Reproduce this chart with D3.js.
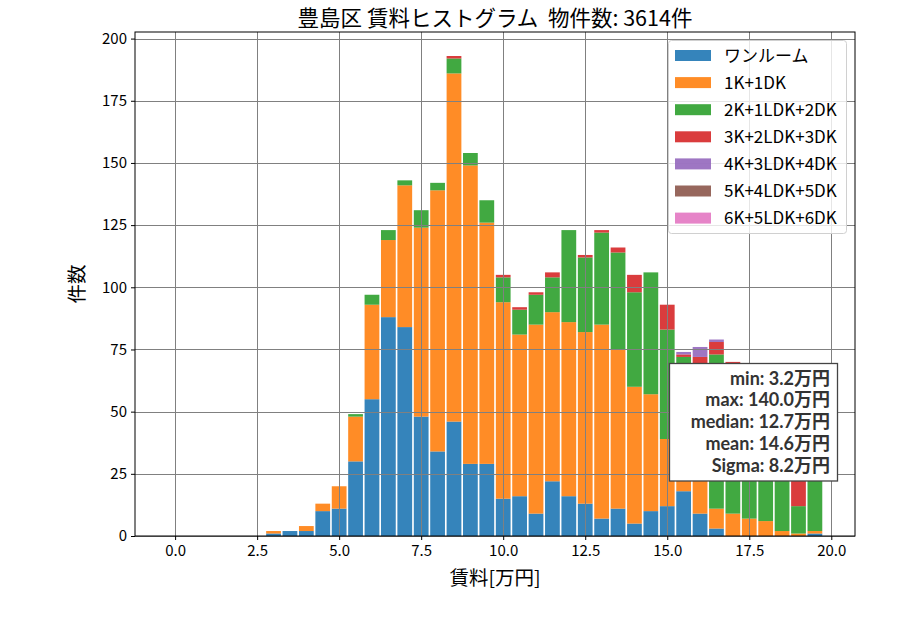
<!DOCTYPE html>
<html><head><meta charset="utf-8">
<script src="https://cdn.jsdelivr.net/npm/d3@7"></script>
<style>
body{margin:0;background:#fff;}
text{font-family:"Noto Sans CJK JP","Noto Sans",sans-serif;white-space:pre;}
</style></head><body>
<svg id="chart" width="900" height="630"></svg>
<script>
// bin centres (万円)
const bins = [3.0,3.5,4.0,4.5,5.0,5.5,6.0,6.5,7.0,7.5,8.0,8.5,9.0,9.5,10.0,10.5,11.0,11.5,12.0,12.5,13.0,13.5,14.0,14.5,15.0,15.5,16.0,16.5,17.0,17.5,18.0,18.5,19.0,19.5];
const seriesNames = ["ワンルーム","1K+1DK","2K+1LDK+2DK","3K+2LDK+3DK","4K+3LDK+4DK","5K+4LDK+5DK","6K+5LDK+6DK"];
const oneRoom = [1,2,2,10,11,30,55,88,84,48,34,46,29,29,15,16,9,22,16,13,7,11,5,10,12,18,9,3,0,0,0,0,0,1];
const k1dk    = [1,0,2,3,9,18,38,31,57,76,105,140,120,97,79,65,76,68,70,69,78,64,55,47,27,18,19,8,9,7,6,2,1,1];
const k2ldk   = [0,0,0,0,0,1,4,4,2,7,3,6,5,9,10,10,12,14,37,30,37,39,38,49,44,36,40,62,59,52,48,45,11,30];
const k3ldk   = [0,0,0,0,0,0,0,0,0,0,0,1,0,0,1,1,1,2,0,1,1,2,7,0,10,1,4,5,2,3,2,3,15,3];
const k4ldk   = [0,0,0,0,0,0,0,0,0,0,0,0,0,0,0,0,0,0,0,0,0,0,0,0,0,1,4,1,0,0,0,0,0,0];
const k5ldk   = [0,0,0,0,0,0,0,0,0,0,0,0,0,0,0,0,0,0,0,0,0,0,0,0,0,0,0,0,0,0,0,0,0,0];
const k6ldk   = [0,0,0,0,0,0,0,0,0,0,0,0,0,0,0,0,0,0,0,0,0,0,0,0,0,0,0,0,0,0,0,0,0,0];
const xTicks = [0,2.5,5,7.5,10,12.5,15,17.5,20];
const yTicks = [0,25,50,75,100,125,150,175,200];
const statLines = ["min: 3.2万円","max: 140.0万円","median: 12.7万円","mean: 14.6万円","Sigma: 8.2万円"];
const titleText = "豊島区 賃料ヒストグラム  物件数: 3614件";
const colors = ["#1f77b4","#ff7f0e","#2ca02c","#d62728","#9467bd","#8c564b","#e377c2"];
const binWidth = 0.5, rwidth = 0.9;

const series = [oneRoom,k1dk,k2ldk,k3ldk,k4ldk,k5ldk,k6ldk];
const rows = bins.map((b,i)=>{const r={bin:b}; seriesNames.forEach((n,j)=>r[n]=series[j][i]); return r;});
const stacked = d3.stack().keys(seriesNames)(rows);

const svg = d3.select("#chart");
const L=135,R=855,T=32,B=536;
const barW = binWidth*rwidth;
const xmin = -barW/2, xmax = bins[bins.length-1]+barW/2;
const xpad = (xmax-xmin)*0.05;
const x = d3.scaleLinear().domain([xmin-xpad,xmax+xpad]).range([L,R]);
const maxTot = d3.max(rows,r=>d3.sum(seriesNames,n=>r[n]));
const y = d3.scaleLinear().domain([0,maxTot*1.05]).range([B,T]);

// bars
svg.append("g").selectAll("g").data(stacked).join("g")
  .attr("fill",(d,i)=>colors[i]).attr("fill-opacity",0.9)
  .selectAll("rect").data(d=>d.filter(s=>s[1]>s[0])).join("rect")
  .attr("x",d=>x(d.data.bin-barW/2))
  .attr("width",d=>x(d.data.bin+barW/2)-x(d.data.bin-barW/2))
  .attr("y",d=>y(d[1]))
  .attr("height",d=>y(d[0])-y(d[1]));

// grid (drawn above bars)
const grid = svg.append("g").attr("stroke","#808080").attr("stroke-width",1);
grid.selectAll(".gx").data(xTicks).join("line")
  .attr("x1",d=>Math.round(x(d))+0.5).attr("x2",d=>Math.round(x(d))+0.5).attr("y1",T).attr("y2",B);
grid.selectAll(".gy").data(yTicks).join("line")
  .attr("y1",d=>Math.round(y(d))+0.5).attr("y2",d=>Math.round(y(d))+0.5).attr("x1",L).attr("x2",R);

// axes
const xAxis = d3.axisBottom(x).tickValues(xTicks).tickFormat(d3.format(".1f")).tickSizeInner(4).tickSizeOuter(0).tickPadding(5);
const yAxis = d3.axisLeft(y).tickValues(yTicks).tickSizeInner(4).tickSizeOuter(0).tickPadding(4);
const gx = svg.append("g").attr("transform",`translate(0,${B})`).call(xAxis);
const gy = svg.append("g").attr("transform",`translate(${L},0)`).call(yAxis);
[gx,gy].forEach(g=>{g.select(".domain").remove();
  g.selectAll("text").attr("font-size",15).attr("fill","#000").style("font-family","'Noto Sans CJK JP'");
  g.selectAll("line").attr("stroke","#000");});

// spines
svg.append("rect").attr("x",L).attr("y",T).attr("width",R-L).attr("height",B-T)
  .attr("fill","none").attr("stroke","#000").attr("stroke-width",1);

// labels
svg.append("text").attr("x",(L+R)/2).attr("y",26).attr("text-anchor","middle")
  .attr("font-size",21.5).text(titleText);
svg.append("text").attr("x",(L+R)/2).attr("y",585).attr("text-anchor","middle")
  .attr("font-size",19.5).text("賃料[万円]");
svg.append("text").attr("transform",`translate(84,${(T+B)/2}) rotate(-90)`).attr("text-anchor","middle")
  .attr("font-size",19.5).text("件数");

// legend
const lg = svg.append("g");
lg.append("rect").attr("x",668.5).attr("y",40.5).attr("width",178).attr("height",193).attr("rx",3)
  .attr("fill","#fff").attr("fill-opacity",0.8).attr("stroke","#d0d0d0");
seriesNames.forEach((n,i)=>{
  const cy = 55.5 + i*27.1;
  lg.append("rect").attr("x",675).attr("y",cy-5.5).attr("width",36).attr("height",11)
    .attr("fill",colors[i]).attr("fill-opacity",0.9);
  lg.append("text").attr("x",724).attr("y",cy+6).attr("font-size",17).text(n);
});

// stats box (one multi-line text)
const sb = svg.append("g");
sb.append("rect").attr("x",669.5).attr("y",363.5).attr("width",168).attr("height",117.5)
  .attr("fill","#fff").attr("stroke","#444").attr("stroke-width",1.3);
const st = sb.append("text").attr("x",830).attr("y",384.5).attr("text-anchor","end")
  .attr("font-size",18).attr("font-weight","bold").attr("fill","#333")
  .style("font-family","Lato,'Noto Sans CJK JP',sans-serif");
st.selectAll("tspan").data(statLines).join("tspan")
  .attr("x",830).attr("dy",(d,i)=>i===0?0:21.8).text(d=>d);
</script>
</body></html>
